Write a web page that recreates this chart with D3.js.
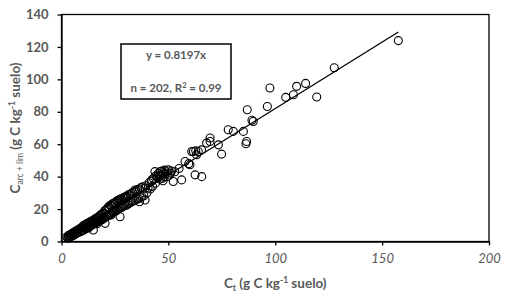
<!DOCTYPE html>
<html>
<head>
<meta charset="utf-8">
<script src="https://cdn.jsdelivr.net/npm/d3@7"></script>
<style>
  body { margin: 0; background: #fff; }
  text { font-family: Lato, "Liberation Sans", sans-serif; }
</style>
</head>
<body>
<div id="container"></div>
<script>
// C total (x) and C arcilla + limo (y)
var ctValues = [
  2.5,3.0,3.2,3.5,3.8,4.0,4.3,4.6,5.0,5.2,5.5,5.8,6.0,6.3,6.7,7.0,7.3,7.6,8.0,8.3,8.6,9.0,9.3,9.6,10.0,
  10.2,10.5,10.8,11.0,11.2,11.5,11.8,12.0,12.2,12.5,12.8,13.0,13.3,13.5,13.8,14.0,14.2,14.5,14.8,15.0,
  15.3,15.5,15.8,16.0,16.3,16.5,16.8,17.0,17.2,17.5,17.8,18.0,18.3,18.5,18.8,19.0,19.3,19.5,19.8,20.0,
  14.9,12.6,16.7,18.2,19.6,
  20.2,20.4,20.7,21.0,21.3,21.5,21.8,22.0,22.3,22.5,22.8,23.0,23.3,23.5,23.8,24.0,24.3,24.5,24.8,25.0,
  25.3,25.5,25.8,26.0,26.3,26.5,26.8,27.0,27.3,27.5,27.8,28.0,28.2,28.5,28.8,29.0,29.3,29.6,29.8,
  20.4,27.4,23.2,
  30.0,30.3,30.6,31.0,31.3,31.6,32.0,32.3,32.6,33.0,33.3,33.6,34.0,34.4,34.8,35.2,35.6,36.0,36.4,36.8,
  37.2,37.6,38.0,38.5,39.1,39.1,39.5,40.0,34.4,36.5,
  40.5,41.0,41.5,42.0,42.2,42.6,43.0,43.7,44.0,44.5,45.0,45.3,45.8,46.2,46.6,47.0,47.3,47.8,48.2,48.6,
  49.0,49.5,50.0,50.5,51.0,51.5,44.2,46.0,48.0,47.5,
  69.5,69.5,67.9,65.5,64.0,63.2,61.7,62.8,57.8,60.1,59.5,62.5,65.6,56.2,52.3,55.0,53.0,60.9,
  157.6,127.6,114.2,110.0,108.5,104.9,119.4,97.5,96.3,86.9,89.1,89.7,78.0,80.4,85.1,86.6,86.3,74.9,73.4
];
var carcValues = [
  2.8,2.2,3.6,2.3,4.0,2.8,4.4,3.2,5.0,3.6,5.4,4.0,5.9,4.4,6.4,5.0,6.8,5.4,7.4,5.8,8.0,6.2,8.4,6.6,8.9,
  9.9,7.0,9.4,8.0,10.5,8.1,10.8,8.4,11.2,9.0,11.5,9.3,12.0,9.6,12.3,10.0,12.6,10.4,13.0,10.8,
  13.4,11.0,14.0,11.6,14.3,12.0,14.8,12.2,15.0,12.6,15.8,13.0,16.4,13.2,16.8,13.6,17.2,14.0,17.6,14.6,
  7.1,8.3,11.0,13.0,14.8,
  19.0,14.8,19.4,15.4,20.0,15.8,21.2,16.0,21.0,16.8,22.3,17.0,22.0,17.6,23.2,18.0,23.4,18.4,23.8,19.0,
  24.0,18.8,24.9,19.6,25.2,19.8,25.6,20.4,26.0,20.6,26.4,21.0,25.6,21.4,26.8,21.8,27.2,22.2,27.4,
  11.2,15.3,16.4,
  27.6,22.4,28.0,23.0,28.8,23.6,29.0,24.2,29.6,24.6,30.2,25.0,30.6,25.4,31.2,26.0,32.0,26.4,32.4,27.0,
  33.2,27.6,33.8,28.2,32.9,25.6,34.4,30.0,31.8,24.5,
  33.0,36.2,32.4,37.0,38.0,34.0,38.8,43.1,36.0,40.0,39.5,42.0,40.2,43.2,41.0,43.4,39.0,42.6,44.0,41.5,
  43.0,40.0,44.2,41.0,42.2,43.5,40.5,38.5,40.0,37.5,
  63.8,61.7,60.7,56.5,55.5,53.5,55.5,56.0,49.3,47.3,48.0,41.1,40.0,38.0,37.0,45.0,43.0,55.5,
  123.9,107.2,97.5,95.7,90.5,88.9,89.1,94.7,83.3,81.3,74.8,74.0,68.9,67.9,67.9,61.7,60.3,53.9,59.6
];
var xTicks = [0, 50, 100, 150, 200];
var yTicks = [0, 20, 40, 60, 80, 100, 120, 140];
var slope = 0.8197;
var fitRange = [3, 157.6];

var W = 509, H = 303;
var margin = {top: 14.5, right: 20, bottom: 61.5, left: 61.5};
var width = W - margin.left - margin.right,
    height = H - margin.top - margin.bottom;
var grey = "#595959";

var svg = d3.select("#container")
  .append("svg")
    .attr("width", W)
    .attr("height", H);

var g = svg.append("g")
    .attr("transform", "translate(" + margin.left + "," + margin.top + ")");

var x = d3.scaleLinear().domain([0, 200]).range([0, width]);
var y = d3.scaleLinear().domain([0, 140]).range([height, 0]);

// frame
g.append("rect")
  .attr("width", width).attr("height", height)
  .attr("fill", "none").attr("stroke", "#000").attr("stroke-width", 1.3);

var xAxis = g.append("g")
  .attr("transform", "translate(0," + height + ")")
  .call(d3.axisBottom(x).tickValues(xTicks).tickSize(4).tickPadding(8).tickSizeOuter(0));
xAxis.select(".domain").attr("stroke-width", 1.3);
xAxis.selectAll("text")
  .style("font-size", "13px").style("font-style", "italic").attr("fill", grey);

var yAxis = g.append("g")
  .call(d3.axisLeft(y).tickValues(yTicks).tickSize(4).tickPadding(9).tickSizeOuter(0));
yAxis.select(".domain").attr("stroke-width", 1.3);
yAxis.selectAll("text")
  .style("font-size", "13px").style("font-weight", "bold").attr("fill", grey);
g.selectAll(".tick line").attr("stroke-width", 1.3);

var pts = ctValues.map(function(d, i) { return {ct: d, carc: carcValues[i]}; });

// fit line
g.append("line")
  .attr("x1", x(fitRange[0])).attr("y1", y(fitRange[0] * slope))
  .attr("x2", x(fitRange[1])).attr("y2", y(fitRange[1] * slope))
  .attr("stroke", "#000").attr("stroke-width", 1.3);

g.append("g")
  .selectAll("circle")
  .data(pts)
  .enter()
  .append("circle")
    .attr("cx", d => x(d.ct))
    .attr("cy", d => y(d.carc))
    .attr("r", 4)
    .attr("fill", "none")
    .attr("stroke", "#000")
    .attr("stroke-width", 1.1);

// equation box
svg.append("rect")
  .attr("x", 121).attr("y", 44).attr("width", 110).attr("height", 55)
  .attr("fill", "#fff").attr("stroke", "#000").attr("stroke-width", 1.5);
svg.append("text")
  .attr("x", 176).attr("y", 59)
  .attr("text-anchor", "middle")
  .style("font-size", "11.5px").style("font-weight", "bold").attr("fill", grey)
  .text("y = 0.8197x");
var r2 = svg.append("text")
  .attr("x", 176).attr("y", 92)
  .attr("text-anchor", "middle")
  .style("font-size", "11.5px").style("font-weight", "bold").attr("fill", grey);
r2.append("tspan").text("n = 202, R");
r2.append("tspan").attr("dy", -4).style("font-size", "7.5px").text("2");
r2.append("tspan").attr("dy", 4).text(" = 0.99");

// x title
var xt = svg.append("text")
  .attr("x", margin.left + width / 2).attr("y", 288)
  .attr("text-anchor", "middle")
  .style("font-size", "13.5px").style("font-weight", "bold").attr("fill", grey);
xt.append("tspan").text("C");
xt.append("tspan").attr("dy", 3).style("font-size", "8.5px").text("t");
xt.append("tspan").attr("dy", -3).text(" (g C kg");
xt.append("tspan").attr("dy", -5).style("font-size", "8.5px").text("-1");
xt.append("tspan").attr("dy", 5).text(" suelo)");

// y title
var yt = svg.append("text")
  .attr("transform", "translate(20," + (margin.top + height / 2) + ") rotate(-90)")
  .attr("text-anchor", "middle")
  .style("font-size", "13.5px").style("font-weight", "bold").attr("fill", grey);
yt.append("tspan").text("C");
yt.append("tspan").attr("dy", 3).style("font-size", "8.5px").style("font-weight", "normal").text("arc + lim");
yt.append("tspan").attr("dy", -3).text(" (g C kg");
yt.append("tspan").attr("dy", -5).style("font-size", "8.5px").text("-1");
yt.append("tspan").attr("dy", 5).text(" suelo)");
</script>
</body>
</html>
